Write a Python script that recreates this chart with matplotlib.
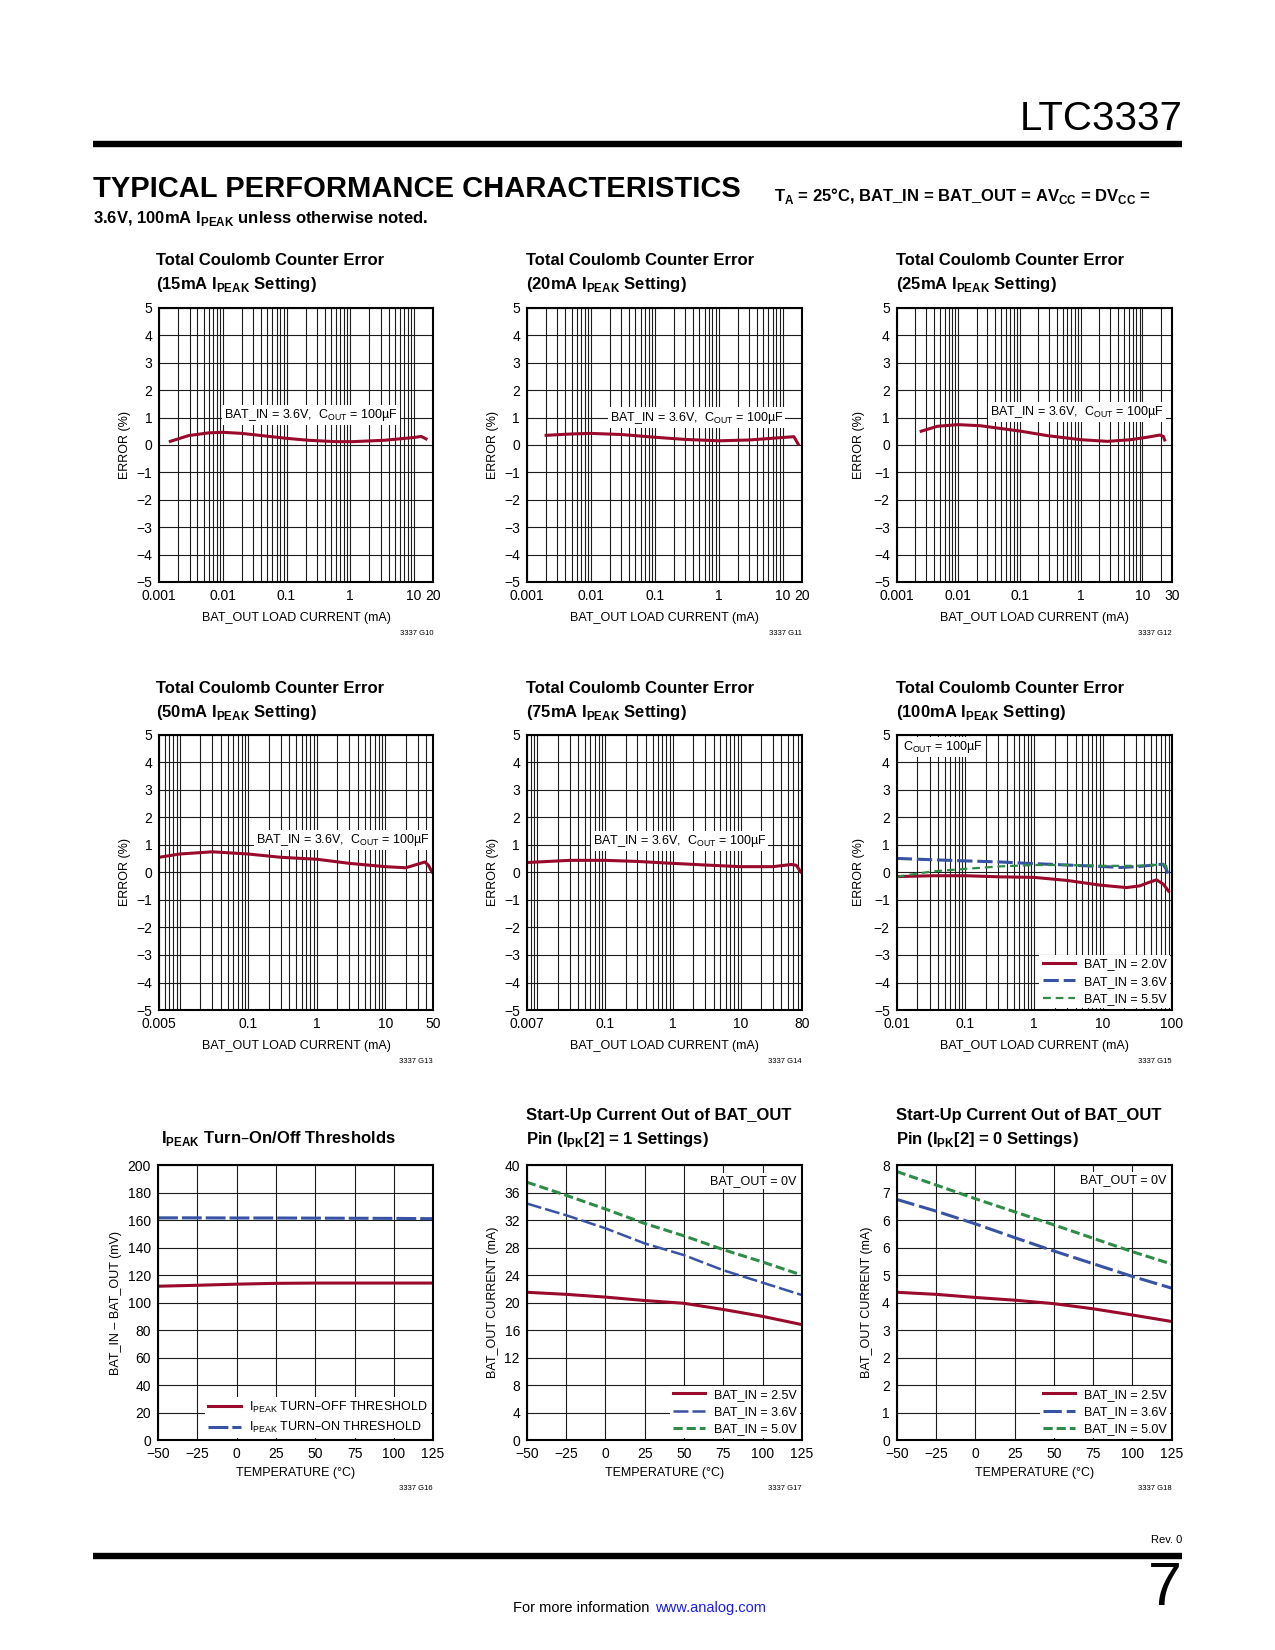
import numpy as np
import matplotlib
matplotlib.use("Agg")
import matplotlib.pyplot as plt
from matplotlib.lines import Line2D
from matplotlib.ticker import FixedLocator, FixedFormatter, LogLocator, NullFormatter

plt.rcParams['font.family'] = ['Liberation Sans', 'DejaVu Sans']

RED = '#990a2c'
BLUE = '#3953a4'
GREEN = '#2f8c48'
GRID = '#1c1c1c'

# ---- data ----
err_yticks = [-5, -4, -3, -2, -1, 0, 1, 2, 3, 4, 5]
err_ylabels = ['\u22125', '\u22124', '\u22123', '\u22122', '\u22121', '0', '1', '2', '3', '4', '5']

# G10: 15mA IPEAK
g10_x = [0.0015, 0.0029, 0.006, 0.01, 0.02, 0.041, 0.1, 0.22, 0.58, 1.1, 3.5, 10, 13, 15.5]
g10_y = [0.13, 0.34, 0.44, 0.46, 0.42, 0.34, 0.24, 0.17, 0.12, 0.12, 0.17, 0.27, 0.31, 0.22]
g10_ticks = [0.001, 0.01, 0.1, 1, 10, 20]
g10_labels = ['0.001', '0.01', '0.1', '1', '10', '20']

# G11: 20mA IPEAK
g11_x = [0.002, 0.005, 0.01, 0.03, 0.1, 0.3, 1, 3, 10, 15, 17.5]
g11_y = [0.35, 0.40, 0.42, 0.38, 0.28, 0.20, 0.15, 0.18, 0.27, 0.30, 0.03]
g11_ticks = [0.001, 0.01, 0.1, 1, 10, 20]
g11_labels = ['0.001', '0.01', '0.1', '1', '10', '20']

# G12: 25mA IPEAK
g12_x = [0.0025, 0.0046, 0.01, 0.023, 0.049, 0.105, 0.28, 1.0, 2.7, 6.4, 11.9, 19.3, 21.9, 23]
g12_y = [0.50, 0.68, 0.74, 0.70, 0.60, 0.50, 0.34, 0.19, 0.13, 0.19, 0.28, 0.36, 0.31, 0.18]
g12_ticks = [0.001, 0.01, 0.1, 1, 10, 30]
g12_labels = ['0.001', '0.01', '0.1', '1', '10', '30']

# G13: 50mA IPEAK
g13_x = [0.005, 0.01, 0.03, 0.1, 0.3, 1, 3, 10, 20, 38, 43, 48]
g13_y = [0.55, 0.67, 0.75, 0.67, 0.55, 0.48, 0.33, 0.21, 0.17, 0.38, 0.25, 0.02]
g13_ticks = [0.005, 0.1, 1, 10, 50]
g13_labels = ['0.005', '0.1', '1', '10', '50']

# G14: 75mA IPEAK
g14_x = [0.007, 0.03, 0.1, 0.3, 1, 3, 10, 30, 56, 66, 77]
g14_y = [0.36, 0.44, 0.44, 0.40, 0.33, 0.27, 0.21, 0.21, 0.29, 0.26, 0.02]
g14_ticks = [0.007, 0.1, 1, 10, 80]
g14_labels = ['0.007', '0.1', '1', '10', '80']

# G15: 100mA IPEAK, three BAT_IN values
g15_red_x = [0.01, 0.034, 0.1, 0.32, 1, 3, 9, 22, 34, 48, 60, 75, 90]
g15_red_y = [-0.15, -0.12, -0.12, -0.16, -0.18, -0.29, -0.46, -0.55, -0.49, -0.35, -0.27, -0.42, -0.68]
g15_blue_x = [0.01, 0.034, 0.1, 0.32, 1, 3, 9, 18, 35, 60, 75, 83, 88]
g15_blue_y = [0.51, 0.46, 0.42, 0.38, 0.32, 0.27, 0.22, 0.18, 0.22, 0.28, 0.30, 0.12, -0.04]
g15_green_x = [0.01, 0.02, 0.034, 0.1, 0.32, 1, 3, 10, 30, 55, 73, 83, 88]
g15_green_y = [-0.16, -0.04, 0.04, 0.13, 0.22, 0.27, 0.27, 0.24, 0.24, 0.27, 0.30, 0.24, -0.04]
g15_ticks = [0.01, 0.1, 1, 10, 100]
g15_labels = ['0.01', '0.1', '1', '10', '100']
g15_legend = ['BAT_IN = 2.0V', 'BAT_IN = 3.6V', 'BAT_IN = 5.5V']

# temperature charts
temp = [-50, -25, 0, 25, 50, 75, 100, 125]
temp_labels = ['\u221250', '\u221225', '0', '25', '50', '75', '100', '125']

g16_off = [111.9, 112.6, 113.4, 114.0, 114.2, 114.2, 114.2, 114.2]
g16_on = [161.6, 161.6, 161.5, 161.5, 161.4, 161.3, 161.2, 161.0]

g17_red = [21.5, 21.2, 20.8, 20.3, 19.9, 19.0, 18.0, 16.8]
g17_blue = [34.4, 32.7, 30.8, 28.6, 26.9, 24.7, 22.9, 21.1]
g17_green = [37.5, 35.6, 33.6, 31.5, 29.7, 27.7, 25.9, 24.0]

g18_red = [4.30, 4.24, 4.15, 4.07, 3.97, 3.82, 3.64, 3.45]
g18_blue = [7.00, 6.66, 6.29, 5.89, 5.50, 5.13, 4.76, 4.42]
g18_green = [7.81, 7.42, 7.02, 6.64, 6.26, 5.87, 5.48, 5.12]
g18_yticks = [0, 0.8, 1.6, 2.4, 3.2, 4.0, 4.8, 5.6, 6.4, 7.2, 8.0]
g18_ylabels = ['0', '1', '2', '2', '3', '4', '5', '6', '6', '7', '8']

startup_legend = ['BAT_IN = 2.5V', 'BAT_IN = 3.6V', 'BAT_IN = 5.0V']

# ---- page layout (coords measured on a 1210 x 1565 view of the page) ----
W, H = 1210.0, 1565.0
fig = plt.figure(figsize=(12.75, 16.5), dpi=100)

TXT = 9      # labels, notes, legends
TICK = 10    # tick numbers
TTL = 12     # chart titles


def fx(x):
    return x / W


def fy(y):
    return 1 - y / H


def box(x0, y0, x1, y1):
    return [x0 / W, 1 - y1 / H, (x1 - x0) / W, (y1 - y0) / H]


def hline(x0, x1, y, lw):
    fig.add_artist(Line2D([fx(x0), fx(x1)], [fy(y), fy(y)], color='black', lw=lw,
                          transform=fig.transFigure, solid_capstyle='butt'))


def style(ax):
    for s in ax.spines.values():
        s.set_linewidth(1.5)
        s.set_zorder(4)
    ax.tick_params(which='both', length=0, labelsize=TICK, pad=5)
    ax.grid(True, which='both', color=GRID, lw=0.8)


def titles(x, y, lines):
    for i, t in enumerate(lines):
        fig.text(fx(x), fy(y + 23 * i), t, fontsize=TTL, fontweight='bold', va='center')


def bottom_text(x0, x1, y, xlabel, code):
    fig.text(fx((x0 + x1) / 2), fy(y), xlabel, fontsize=TXT, ha='center', va='center')
    fig.text(fx(x1), fy(y + 15), '3337 ' + code, fontsize=5.5, ha='right', va='center')


def err_axes(x0, y0, x1, y1, xlim, ticks, labels, code, lx=-0.103):
    ax = fig.add_axes(box(x0, y0, x1, y1))
    ax.set_xscale('log')
    ax.set_xlim(*xlim)
    ax.set_ylim(-5, 5)
    ax.xaxis.set_major_locator(FixedLocator(ticks))
    ax.xaxis.set_major_formatter(FixedFormatter(labels))
    ax.xaxis.set_minor_locator(LogLocator(base=10, subs=np.arange(1, 10), numticks=60))
    ax.xaxis.set_minor_formatter(NullFormatter())
    ax.yaxis.set_major_locator(FixedLocator(err_yticks))
    ax.yaxis.set_major_formatter(FixedFormatter(err_ylabels))
    style(ax)
    ax.set_ylabel('ERROR (%)', fontsize=TXT)
    ax.yaxis.set_label_coords(lx, 0.5)
    bottom_text(x0, x1, y1 + 34, 'BAT_OUT LOAD CURRENT (mA)', code)
    return ax


def temp_axes(x0, y0, x1, y1, ylim, yticks, ylabels, ylabel, lx, code):
    ax = fig.add_axes(box(x0, y0, x1, y1))
    ax.set_xlim(-50, 125)
    ax.set_ylim(*ylim)
    ax.xaxis.set_major_locator(FixedLocator(temp))
    ax.xaxis.set_major_formatter(FixedFormatter(temp_labels))
    ax.yaxis.set_major_locator(FixedLocator(yticks))
    ax.yaxis.set_major_formatter(FixedFormatter(ylabels))
    style(ax)
    ax.set_ylabel(ylabel, fontsize=TXT)
    ax.yaxis.set_label_coords(lx, 0.5)
    bottom_text(x0, x1, y1 + 31, 'TEMPERATURE (\u00b0C)', code)
    return ax


note = 'BAT_IN = 3.6V,  C$_\\mathregular{OUT}$ = 100\u00b5F'
white = dict(facecolor='white', edgecolor='none', pad=1.5)
leg_kw = dict(frameon=True, fancybox=False, framealpha=1, edgecolor='none', fontsize=TXT,
              handlelength=2.6, handletextpad=0.7, labelspacing=0.42, borderpad=0.25,
              borderaxespad=0.15, loc='lower right')

# ---- header ----
fig.text(fx(1122), fy(113), 'LTC3337', fontsize=29, ha='right', va='center')
hline(88, 1122, 137, 4.6)
fig.text(fx(88), fy(179), 'TYPICAL PERFORMANCE CHARACTERISTICS', fontsize=21,
         fontweight='bold', va='center')
fig.text(fx(735), fy(186), 'T$_\\mathregular{A}$ = 25\u00b0C, BAT_IN = BAT_OUT = AV$_\\mathregular{CC}$'
         ' = DV$_\\mathregular{CC}$ =', fontsize=12, fontweight='bold', va='center')
fig.text(fx(88), fy(207), '3.6V, 100mA I$_\\mathregular{PEAK}$ unless otherwise noted.',
         fontsize=12, fontweight='bold', va='center')

# ---- row 1 ----
titles(148, 247, ['Total Coulomb Counter Error', '(15mA I$_\\mathregular{PEAK}$ Setting)'])
ax = err_axes(151, 292, 411, 552, (0.001, 20), g10_ticks, g10_labels, 'G10')
ax.plot(g10_x, g10_y, color=RED, lw=2.2)
ax.text(0.554, 0.608, note, transform=ax.transAxes, ha='center', va='center', fontsize=TXT, bbox=white)

titles(499, 247, ['Total Coulomb Counter Error', '(20mA I$_\\mathregular{PEAK}$ Setting)'])
ax = err_axes(500, 292, 761, 552, (0.001, 20), g11_ticks, g11_labels, 'G11', -0.1)
ax.plot(g11_x, g11_y, color=RED, lw=2.2)
ax.text(0.617, 0.60, note, transform=ax.transAxes, ha='center', va='center', fontsize=TXT, bbox=white)

titles(850, 247, ['Total Coulomb Counter Error', '(25mA I$_\\mathregular{PEAK}$ Setting)'])
ax = err_axes(851, 292, 1112, 552, (0.001, 30), g12_ticks, g12_labels, 'G12', -0.115)
ax.plot(g12_x, g12_y, color=RED, lw=2.2)
ax.text(0.655, 0.62, note, transform=ax.transAxes, ha='center', va='center', fontsize=TXT, bbox=white)

# ---- row 2 ----
titles(148, 653, ['Total Coulomb Counter Error', '(50mA I$_\\mathregular{PEAK}$ Setting)'])
ax = err_axes(151, 697, 411, 958, (0.005, 50), g13_ticks, g13_labels, 'G13')
ax.plot(g13_x, g13_y, color=RED, lw=2.2)
ax.text(0.67, 0.617, note, transform=ax.transAxes, ha='center', va='center', fontsize=TXT, bbox=white)

titles(499, 653, ['Total Coulomb Counter Error', '(75mA I$_\\mathregular{PEAK}$ Setting)'])
ax = err_axes(500, 697, 761, 958, (0.007, 80), g14_ticks, g14_labels, 'G14', -0.1)
ax.plot(g14_x, g14_y, color=RED, lw=2.2)
ax.text(0.555, 0.615, note, transform=ax.transAxes, ha='center', va='center', fontsize=TXT, bbox=white)

titles(850, 653, ['Total Coulomb Counter Error', '(100mA I$_\\mathregular{PEAK}$ Setting)'])
ax = err_axes(851, 697, 1112, 958, (0.01, 100), g15_ticks, g15_labels, 'G15', -0.115)
ax.plot(g15_red_x, g15_red_y, color=RED, lw=2.2, label=g15_legend[0])
ax.plot(g15_blue_x, g15_blue_y, color=BLUE, lw=2.2, dashes=(5, 1.6), label=g15_legend[1])
ax.plot(g15_green_x, g15_green_y, color=GREEN, lw=1.6, dashes=(3.5, 2.2), label=g15_legend[2])
ax.text(0.023, 0.955, 'C$_\\mathregular{OUT}$ = 100\u00b5F', transform=ax.transAxes, ha='left',
        va='center', fontsize=TXT, bbox=white)
ax.legend(**leg_kw)

# ---- row 3 ----
titles(153, 1080, ['I$_\\mathregular{PEAK}$ Turn\u2013On/Off Thresholds'])
ax = temp_axes(150, 1105, 411, 1366, (0, 200), list(range(0, 201, 20)),
               [str(v) for v in range(0, 201, 20)], 'BAT_IN \u2013 BAT_OUT (mV)', -0.13, 'G16')
ax.plot(temp, g16_off, color=RED, lw=2.2, label='I$_\\mathregular{PEAK}$ TURN\u2013OFF THRESHOLD')
ax.plot(temp, g16_on, color=BLUE, lw=2.2, dashes=(6.5, 1.3), label='I$_\\mathregular{PEAK}$ TURN\u2013ON THRESHOLD')
ax.legend(**leg_kw)

titles(499, 1058, ['Start-Up Current Out of BAT_OUT', 'Pin (I$_\\mathregular{PK}$[2] = 1 Settings)'])
ax = temp_axes(500, 1105, 761, 1366, (0, 40), list(range(0, 41, 4)),
               [str(v) for v in range(0, 41, 4)], 'BAT_OUT CURRENT (mA)', -0.103, 'G17')
ax.plot(temp, g17_red, color=RED, lw=2.2, label=startup_legend[0])
ax.plot(temp, g17_blue, color=BLUE, lw=1.8, dashes=(6, 1.6), label=startup_legend[1])
ax.plot(temp, g17_green, color=GREEN, lw=2.2, dashes=(3, 1.3), label=startup_legend[2])
ax.text(0.98, 0.943, 'BAT_OUT = 0V', transform=ax.transAxes, ha='right', va='center',
        fontsize=TXT, bbox=white)
ax.legend(**leg_kw)

titles(850, 1058, ['Start-Up Current Out of BAT_OUT', 'Pin (I$_\\mathregular{PK}$[2] = 0 Settings)'])
ax = temp_axes(851, 1105, 1112, 1366, (0, 8), g18_yticks, g18_ylabels,
               'BAT_OUT CURRENT (mA)', -0.088, 'G18')
ax.plot(temp, g18_red, color=RED, lw=2.2, label=startup_legend[0])
ax.plot(temp, g18_blue, color=BLUE, lw=2.2, dashes=(6, 1.6), label=startup_legend[1])
ax.plot(temp, g18_green, color=GREEN, lw=2.2, dashes=(3, 1.3), label=startup_legend[2])
ax.text(0.98, 0.946, 'BAT_OUT = 0V', transform=ax.transAxes, ha='right', va='center',
        fontsize=TXT, bbox=white)
ax.legend(**leg_kw)

# ---- footer ----
fig.text(fx(1122), fy(1461), 'Rev. 0', fontsize=8, ha='right', va='center')
hline(88, 1122, 1476, 4.6)
fig.text(fx(1122), fy(1508), '7', fontsize=44, ha='right', va='center')
fig.text(fx(487), fy(1525), 'For more information', fontsize=10.5, ha='left', va='center')
fig.text(fx(622), fy(1525), 'www.analog.com', fontsize=10.5, ha='left', va='center', color='#1a1aff')

fig.savefig('out.png', dpi=100)
